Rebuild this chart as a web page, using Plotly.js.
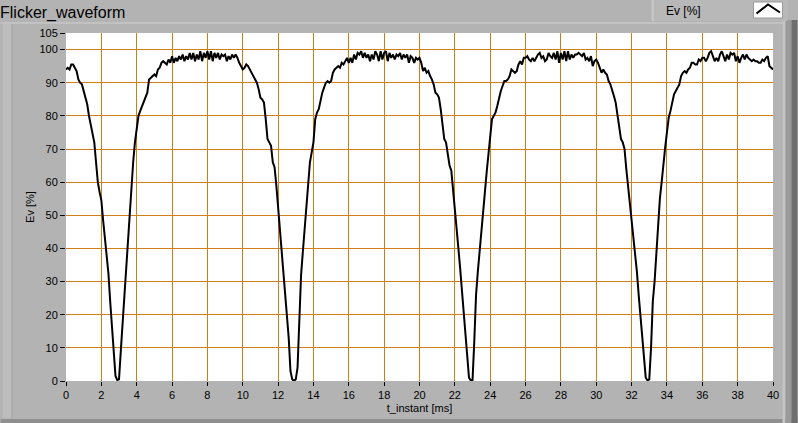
<!DOCTYPE html>
<html>
<head>
<meta charset="utf-8">
<script src="https://cdn.plot.ly/plotly-3.0.1.min.js"></script>
<style>
html,body{margin:0;padding:0;background:#b3b3b3;}
#chart{width:798px;height:423px;}
</style>
</head>
<body>
<div id="chart"></div>
<script>
// Sample interval of the waveform (ms) and first sample time
const sampleStart = 0;
const sampleStep = 0.1;

// Ev [%] readings, one every 0.1 ms from 0 to 40 ms
const evCycle1 = [
  94, 94.5, 94, 95.5, 95.5, 94.5, 93.5, 91, 90, 89.5,
  87.5, 85.5, 83.5, 80, 77.5, 74.5, 72, 66, 60, 57,
  54.5, 48.5, 43.5, 38, 32.5, 24, 15.5, 7.5, 1.5, 0.3,
  0.5, 9, 17, 26, 36, 41, 49, 59, 66, 72,
  77, 80, 81.5, 83, 84, 85.5, 87, 91, 91.5, 92,
  92.5, 92, 94, 94.5, 96, 96.5, 96, 95.5, 97, 96,
  98, 96, 97.5, 96.5, 98, 97, 98.5, 96.5, 98, 97,
  99, 97, 99, 96.5, 98.5, 97, 99.5, 96.5, 99, 97.5,
  99.5, 97, 99.5, 96.5, 99, 97.5, 99, 97, 98.5, 98,
  98.5, 96.5, 98, 97, 98.5, 97.5, 98.5, 97.5, 96, 95
];
const evCycle2 = [
  94, 94.5, 95.5, 95, 94, 93, 92, 91, 90, 88,
  85.5, 85, 84, 79, 73, 72, 71, 66, 64.5, 59,
  52, 46, 39.5, 32.5, 25.5, 19, 13, 3, 0.5, 0,
  0.5, 4, 20, 32, 39, 46, 54, 60, 66, 69,
  72, 79, 81, 82, 85, 87, 88.5, 90, 90.5, 90,
  90.5, 93, 94, 94.5, 95, 94.5, 96, 95.5, 96.5, 97.5,
  96, 97.5, 96, 98.5, 97, 99, 98.5, 99.5, 97.5, 99,
  97.5, 98.5, 96.5, 98.5, 97, 99.5, 98.5, 96.5, 99.5, 97,
  99, 99.5, 96.5, 99, 97.5, 98.5, 97, 98.5, 98, 99,
  97, 98.5, 97.5, 98.5, 96, 98, 97.5, 96, 97.5, 97
];
const evCycle3 = [
  97.5, 96, 93.5, 94.5, 93, 93.5, 92, 91, 89.5, 87,
  86.5, 85.5, 82, 77, 73, 72, 68, 65, 63.5, 57,
  51, 46, 40, 34, 27, 20, 14, 6, 1, 0.2,
  0.3, 12, 26, 33, 38.5, 45, 51, 57, 63, 68.5,
  73, 79, 80, 81, 83, 85.5, 87.5, 89, 90.5, 90.5,
  91, 92, 94, 93.5, 93, 93.5, 95.5, 96.5, 95.5, 97.5,
  97.5, 98, 97, 96.5, 97.5, 96.5, 97.5, 98.5, 99, 97.5,
  98, 96.5, 97, 99, 98, 97.5, 99, 97, 99.5, 96,
  99, 97, 99.5, 96.5, 99.5, 97, 98.5, 97.5, 98.5, 98.5,
  99, 98.5, 98, 99, 97, 97.5, 96.5, 98, 95, 96.5
];
const evCycle4 = [
  97, 96, 94.5, 93, 94, 93, 92.5, 90.5, 89.5, 88,
  86, 84, 80, 77, 73, 72, 70, 64, 59, 55,
  49, 43, 38, 33, 26, 19.5, 12, 5, 1, 0.2,
  0.5, 10, 24, 30, 39, 49, 55, 60, 66, 70.5,
  75, 79.5, 81.5, 84, 86.5, 87.5, 88.5, 89.5, 92, 93,
  93.5, 93, 94, 94.5, 96, 96, 95.5, 95.5, 97, 96.5,
  97.5, 97.5, 96.5, 97.5, 99, 99.5, 98, 96.5, 97.5, 96.5,
  98.5, 99.5, 98, 96.5, 98.5, 97, 99, 98.5, 99, 96.5,
  98, 96, 97.5, 98.5, 97, 98.5, 97.5, 97, 96.5, 97,
  96.5, 96.5, 96, 96, 97, 96.5, 97.5, 98, 95, 94.5,
  94
];
const evValues = evCycle1.concat(evCycle2, evCycle3, evCycle4);

// Axis ticks
const xTickVals = [0,2,4,6,8,10,12,14,16,18,20,22,24,26,28,30,32,34,36,38,40];
const yTickVals = [0,10,20,30,40,50,60,70,80,90,100,105];

const chartTitle = "Flicker_waveform";
const seriesName = "Ev [%]";
const xTitle = "t_instant [ms]";
const yTitle = "Ev [%]";

// pixel -> paper helpers for decorations
const L = 65.5, R = 773.5, T = 33, B = 381;
const px = x => (x - L) / (R - L);
const py = y => (B - y) / (B - T);

const grid = "#D07E18";
const font = "Liberation Sans, Arial, sans-serif";

const trace = {
  type: "scatter",
  mode: "lines",
  x0: sampleStart,
  dx: sampleStep,
  y: evValues,
  name: seriesName,
  line: {color: "#000000", width: 2},
  showlegend: false,
  hoverinfo: "skip"
};

const shapes = [
  {type:"rect", xref:"paper", yref:"paper", x0:px(0), x1:px(798), y0:py(22), y1:py(24), fillcolor:"#c2c2c2", line:{width:0}, layer:"below"},
  {type:"rect", xref:"paper", yref:"paper", x0:px(2), x1:px(11), y0:py(418), y1:py(24), fillcolor:"#bdbdbd", line:{width:0}, layer:"below"},
  {type:"rect", xref:"paper", yref:"paper", x0:px(11), x1:px(12), y0:py(418), y1:py(24), fillcolor:"#a5a5a5", line:{width:0}, layer:"below"},
  {type:"rect", xref:"paper", yref:"paper", x0:px(0), x1:px(798), y0:py(423), y1:py(419), fillcolor:"#8f8f8f", line:{width:0}, layer:"below"},
  {type:"rect", xref:"paper", yref:"paper", x0:px(783), x1:px(786), y0:py(423), y1:py(20), fillcolor:"#c4c4c4", line:{width:0}, layer:"below"},
  {type:"rect", xref:"paper", yref:"paper", x0:px(786), x1:px(792), y0:py(423), y1:py(20), fillcolor:"#9a9a9a", line:{width:0}, layer:"below"},
  {type:"rect", xref:"paper", yref:"paper", x0:px(792), x1:px(798), y0:py(423), y1:py(20), fillcolor:"#6f6f6f", line:{width:0}, layer:"below"},
  {type:"rect", xref:"paper", yref:"paper", x0:px(652), x1:px(788), y0:py(21), y1:py(0), fillcolor:"#b8b8b8", line:{width:0}, layer:"below"},
  {type:"rect", xref:"paper", yref:"paper", x0:px(652), x1:px(654), y0:py(21), y1:py(0), fillcolor:"#cacaca", line:{width:0}, layer:"below"},
  {type:"rect", xref:"paper", yref:"paper", x0:px(754), x1:px(783), y0:py(18), y1:py(2), fillcolor:"#ffffff", line:{color:"#9a9a9a", width:1}},
  {type:"path", xref:"paper", yref:"paper",
   path:"M " + px(757) + " " + py(13.5) + " L " + px(768.5) + " " + py(4.5) + " L " + px(780.5) + " " + py(12.5),
   line:{color:"#000000", width:2}}
];

const layout = {
  width: 798,
  height: 423,
  margin: {l: L, r: 798 - R, t: T, b: 423 - B, pad: 0},
  paper_bgcolor: "#b3b3b3",
  plot_bgcolor: "#ffffff",
  font: {family: font, size: 11, color: "#000000"},
  showlegend: false,
  title: {text: chartTitle, x: 0.0, xref: "container", xanchor: "left", y: 0.985, yref: "container", yanchor: "top",
          font: {family: font, size: 16, color: "#000000"}, pad:{l:0,t:0}},
  xaxis: {
    range: [0, 40],
    tickvals: xTickVals,
    ticktext: xTickVals.map(String),
    showgrid: true, gridcolor: grid, gridwidth: 1,
    zeroline: false, showline: false,
    ticks: "outside", ticklen: 4, tickcolor: "#000000", tickwidth: 1,
    tickfont: {family: font, size: 11, color: "#000000"},
    title: {text: xTitle, font: {family: font, size: 11, color: "#000000"}, standoff: 4},
    automargin: false,
    fixedrange: true
  },
  yaxis: {
    range: [0, 105],
    tickvals: yTickVals,
    ticktext: yTickVals.map(String),
    showgrid: true, gridcolor: grid, gridwidth: 1,
    zeroline: false, showline: false,
    ticks: "outside", ticklen: 5, tickcolor: "#000000", tickwidth: 1,
    tickfont: {family: font, size: 11, color: "#000000"},
    title: {text: yTitle, font: {family: font, size: 11, color: "#000000"}, standoff: 2},
    automargin: false,
    fixedrange: true
  },
  shapes: shapes,
  annotations: [
    {text: seriesName, xref:"paper", yref:"paper", x: px(664), y: py(11), xanchor:"left", yanchor:"middle",
     showarrow:false, font:{family: font, size: 12, color:"#000000"}}
  ]
};

Plotly.newPlot("chart", [trace], layout, {staticPlot: true, displayModeBar: false});
</script>
</body>
</html>
